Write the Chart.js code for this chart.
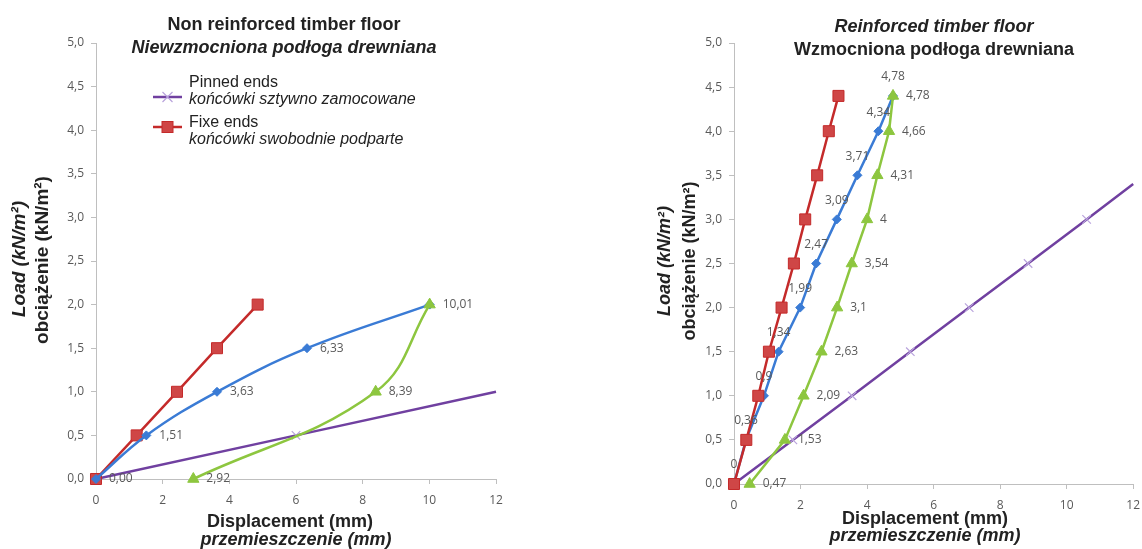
<!DOCTYPE html>
<html>
<head>
<meta charset="utf-8">
<script src="https://cdn.jsdelivr.net/npm/chart.js@4/dist/chart.umd.min.js"></script>
<style>
  body { margin: 0; background: #fff; }
  #wrap { display: flex; width: 1142px; height: 549px; }
  canvas { display: block; }
</style>
</head>
<body>
<div id="wrap">
  <canvas id="left" width="571" height="549"></canvas>
  <canvas id="right" width="571" height="549"></canvas>
</div>
<script>
// --- data: load (kN/m2) vs displacement (mm) ---
const xTicks = [0, 2, 4, 6, 8, 10, 12];
const yTicks = [0, 0.5, 1, 1.5, 2, 2.5, 3, 3.5, 4, 4.5, 5];

// non reinforced floor
const leftLoad = [0, 0.5, 1.0, 1.5, 2.0];
const leftFixed = [0, 1.22, 2.43, 3.63, 4.85];
const leftBlue = [0, 1.51, 3.63, 6.33, 10.01];
const leftGreenX = [2.92, 8.39, 10.01];
const leftGreenY = [0, 1.0, 2.0];
const leftPinnedX = [0, 6, 12];
const leftPinnedY = [0, 0.5, 1.0];

// reinforced floor
const rightLoad = [0, 0.5, 1.0, 1.5, 2.0, 2.5, 3.0, 3.5, 4.0, 4.4];
const rightFixed = [0, 0.37, 0.73, 1.05, 1.43, 1.8, 2.14, 2.5, 2.85, 3.14];
const rightBlue = [0, 0.36, 0.9, 1.34, 1.99, 2.47, 3.09, 3.71, 4.34, 4.78];
const rightGreen = [0.47, 1.53, 2.09, 2.63, 3.1, 3.54, 4, 4.31, 4.66, 4.78];
const rightPinnedX = [0, 1.77, 3.55, 5.3, 7.07, 8.84, 10.6, 12];
const rightPinnedY = [0, 0.5, 1.0, 1.5, 2.0, 2.5, 3.0, 3.4];

const RED = "#c42a2a", RED_FILL = "#cf4646";
const BLUE = "#3a7bd5";
const GREEN = "#8dc63f";
const PURPLE = "#7040a0", PURPLE_MARK = "#b9a3dc";
const GREY = "#595959";
const SANS = "'Liberation Sans', Arial, sans-serif";
const TICKF = "'Open Sans', sans-serif";

const pts = (xs, ys) => xs.map((x, i) => ({ x: x, y: ys[i] }));
const comma = s => String(s).replace(".", ",");

// data labels next to / above the points
const pointLabels = {
  id: "pointLabels",
  afterDatasetsDraw(chart) {
    const ctx = chart.ctx;
    ctx.save();
    ctx.font = "12px " + TICKF;
    ctx.fillStyle = GREY;
    chart.data.datasets.forEach((ds, i) => {
      if (!ds.labelText) return;
      const meta = chart.getDatasetMeta(i);
      meta.data.forEach((el, j) => {
        const t = ds.labelText[j];
        if (t == null) return;
        if (ds.labelPos === "above") {
          ctx.textAlign = "center"; ctx.textBaseline = "middle";
          ctx.fillText(t, el.x, el.y - 19);
        } else {
          ctx.textAlign = "left"; ctx.textBaseline = "middle";
          ctx.fillText(t, el.x + 13, el.y);
        }
      });
    });
    ctx.restore();
  }
};

// titles, axis titles and legend with mixed styles
const texts = {
  id: "texts",
  afterDraw(chart, args, opts) {
    const ctx = chart.ctx;
    (opts.items || []).forEach(it => {
      ctx.save();
      ctx.font = it.f;
      ctx.fillStyle = it.c || "#222";
      ctx.textAlign = it.a || "center";
      ctx.textBaseline = it.b || "alphabetic";
      ctx.translate(it.x, it.y);
      if (it.rot) ctx.rotate(-Math.PI / 2);
      ctx.fillText(it.t, 0, 0);
      ctx.restore();
    });
    (opts.legend || []).forEach(lg => {
      ctx.save();
      ctx.strokeStyle = lg.line;
      ctx.lineWidth = 2.5;
      ctx.beginPath();
      ctx.moveTo(lg.x, lg.my); ctx.lineTo(lg.x + 29, lg.my);
      ctx.stroke();
      const cx = lg.x + 14.5;
      if (lg.mark === "cross") {
        ctx.strokeStyle = PURPLE_MARK; ctx.lineWidth = 1.2;
        ctx.beginPath();
        ctx.moveTo(cx - 5, lg.my - 5); ctx.lineTo(cx + 5, lg.my + 5);
        ctx.moveTo(cx - 5, lg.my + 5); ctx.lineTo(cx + 5, lg.my - 5);
        ctx.stroke();
      } else {
        ctx.fillStyle = RED_FILL; ctx.strokeStyle = RED; ctx.lineWidth = 1;
        ctx.fillRect(cx - 5.5, lg.my - 5.5, 11, 11);
        ctx.strokeRect(cx - 5.5, lg.my - 5.5, 11, 11);
      }
      ctx.fillStyle = "#222";
      ctx.textAlign = "left";
      ctx.font = "16px " + SANS;
      ctx.fillText(lg.t1, lg.x + 36, lg.y);
      ctx.font = "italic 16px " + SANS;
      ctx.fillText(lg.t2, lg.x + 36, lg.y + 17);
      ctx.restore();
    });
  }
};

function scales(yWidth, xHeight) {
  const axisGrid = {
    display: true, drawOnChartArea: false, drawTicks: true,
    tickLength: 5, color: "#bfbfbf"
  };
  return {
    x: {
      type: "linear", min: 0, max: 12,
      afterBuildTicks: s => { s.ticks = xTicks.map(v => ({ value: v })); },
      afterFit: s => { s.height = xHeight; s.paddingLeft = 0; s.paddingRight = 0; },
      grid: axisGrid,
      border: { color: "#bfbfbf", width: 1 },
      ticks: { color: GREY, font: { family: TICKF, size: 12 }, padding: 9,
               callback: v => String(v) }
    },
    y: {
      type: "linear", min: 0, max: 5,
      afterBuildTicks: s => { s.ticks = yTicks.map(v => ({ value: v })); },
      afterFit: s => { s.width = yWidth; },
      grid: axisGrid,
      border: { color: "#bfbfbf", width: 1 },
      ticks: { color: GREY, font: { family: TICKF, size: 12 }, padding: 7,
               callback: v => v.toFixed(1).replace(".", ",") }
    }
  };
}

function series(label, data, color, style, extra) {
  return Object.assign({
    label: label, data: data, showLine: true, clip: false,
    borderColor: color, backgroundColor: color, borderWidth: 2.5,
    pointStyle: style, pointRadius: 5, pointBorderWidth: 1,
    pointBorderColor: color, pointBackgroundColor: color, tension: 0
  }, extra || {});
}

const common = {
  responsive: false, animation: false,
  plugins: { legend: { display: false }, tooltip: { enabled: false } }
};

// ---------- left chart ----------
new Chart(document.getElementById("left"), {
  type: "scatter",
  data: {
    datasets: [
      series("green", pts(leftGreenX, leftGreenY), GREEN, "triangle",
        { pointRadius: 6.5, tension: 0.4,
          labelText: ["2,92", "8,39", null] }),
      series("blue", pts(leftBlue, leftLoad), BLUE, "rectRot",
        { pointRadius: 4.5, tension: 0.4,
          labelText: leftBlue.map(v => comma(v.toFixed(2))) }),
      series("Fixe ends", pts(leftFixed, leftLoad), RED, "rect",
        { pointRadius: 7.8, pointBackgroundColor: RED_FILL }),
      series("Pinned ends", pts(leftPinnedX, leftPinnedY), PURPLE, "crossRot",
        { pointRadius: [6, 6, 0], pointBorderColor: PURPLE_MARK, pointBorderWidth: 1.2 })
    ]
  },
  options: Object.assign({}, common, {
    layout: { padding: { top: 43, right: 75, left: 0, bottom: 0 } },
    scales: scales(96, 70),
    plugins: Object.assign({}, common.plugins, {
      texts: {
        items: [
          { t: "Non reinforced timber floor", x: 284, y: 30, f: "bold 18px " + SANS },
          { t: "Niewzmocniona podłoga drewniana", x: 284, y: 53, f: "italic bold 18px " + SANS },
          { t: "Displacement (mm)", x: 290, y: 527, f: "bold 18px " + SANS },
          { t: "przemieszczenie (mm)", x: 296, y: 545, f: "italic bold 18px " + SANS },
          { t: "Load (kN/m²)", x: 20, y: 259, f: "italic bold 19px " + SANS, rot: true, b: "middle" },
          { t: "obciążenie (kN/m²)", x: 43, y: 260, f: "bold 19px " + SANS, rot: true, b: "middle" }
        ],
        legend: [
          { x: 153, y: 87, my: 97, line: PURPLE, mark: "cross", t1: "Pinned ends", t2: "końcówki sztywno zamocowane" },
          { x: 153, y: 127, my: 127, line: RED, mark: "rect", t1: "Fixe ends", t2: "końcówki swobodnie podparte" }
        ]
      }
    })
  }),
  plugins: [pointLabels, texts]
});

// ---------- right chart ----------
new Chart(document.getElementById("right"), {
  type: "scatter",
  data: {
    datasets: [
      series("Fixe ends", pts(rightFixed, rightLoad), RED, "rect",
        { pointRadius: 7.8, pointBackgroundColor: RED_FILL }),
      series("green", pts(rightGreen, rightLoad), GREEN, "triangle",
        { pointRadius: 6.5, labelText: rightGreen.map(comma) }),
      series("blue", pts(rightBlue, rightLoad), BLUE, "rectRot",
        { pointRadius: 4.5, labelText: rightBlue.map(comma), labelPos: "above" }),
      series("Pinned ends", pts(rightPinnedX, rightPinnedY), PURPLE, "crossRot",
        { pointRadius: [6, 6, 6, 6, 6, 6, 6, 0], pointBorderColor: PURPLE_MARK, pointBorderWidth: 1.2 })
    ]
  },
  options: Object.assign({}, common, {
    layout: { padding: { top: 43, right: 8, left: 0, bottom: 0 } },
    scales: scales(163, 65),
    plugins: Object.assign({}, common.plugins, {
      texts: {
        items: [
          { t: "Reinforced timber floor", x: 363, y: 32, f: "italic bold 18px " + SANS },
          { t: "Wzmocniona podłoga drewniana", x: 363, y: 55, f: "bold 18px " + SANS },
          { t: "Displacement (mm)", x: 354, y: 524, f: "bold 18px " + SANS },
          { t: "przemieszczenie (mm)", x: 354, y: 541, f: "italic bold 18px " + SANS },
          { t: "Load (kN/m²)", x: 94, y: 261, f: "italic bold 18px " + SANS, rot: true, b: "middle" },
          { t: "obciążenie (kN/m²)", x: 119, y: 261, f: "bold 18px " + SANS, rot: true, b: "middle" }
        ]
      }
    })
  }),
  plugins: [pointLabels, texts]
});
</script>
</body>
</html>
